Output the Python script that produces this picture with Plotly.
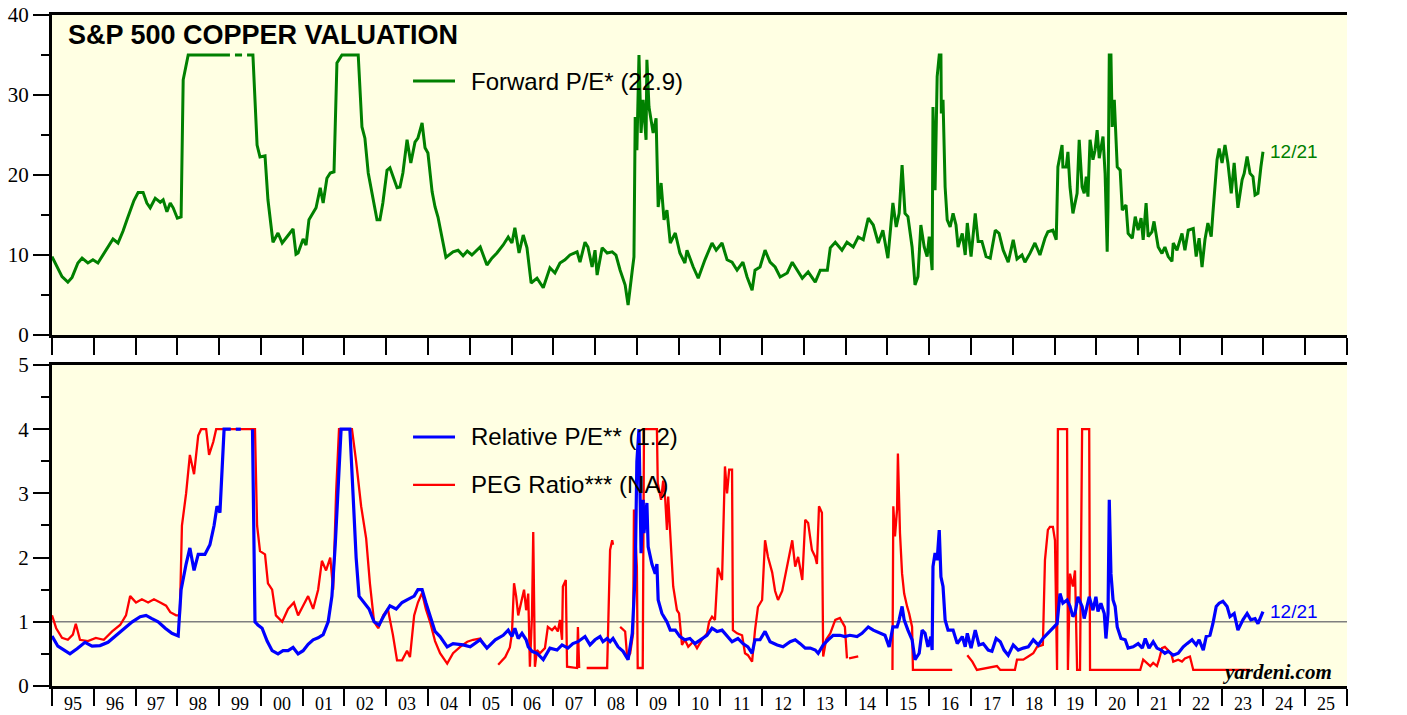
import pandas as pd
import plotly.graph_objects as go

# ---------------- data (decimal years, values) ----------------
pe_years = [1995.00, 1995.12, 1995.24, 1995.38, 1995.48, 1995.62, 1995.72, 1995.86, 1995.98, 1996.10,
            1996.22, 1996.34, 1996.46, 1996.58, 1996.70, 1996.80, 1996.87, 1996.96, 1997.06, 1997.18,
            1997.27, 1997.35, 1997.47, 1997.59, 1997.66, 1997.75, 1997.83, 1997.90, 1998.00, 1998.09,
            1998.14, 1998.26, 1999.26, 1999.30, 1999.38, 1999.55, 1999.60, 1999.67, 1999.81, 1999.91,
            1999.98, 2000.10, 2000.17, 2000.29, 2000.41, 2000.51, 2000.77, 2000.84, 2000.89, 2001.01,
            2001.08, 2001.15, 2001.32, 2001.42, 2001.49, 2001.58, 2001.66, 2001.75, 2001.82, 2001.94,
            2002.33, 2002.42, 2002.49, 2002.57, 2002.69, 2002.78, 2002.85, 2002.92, 2003.02, 2003.09,
            2003.26, 2003.33, 2003.40, 2003.50, 2003.59, 2003.69, 2003.76, 2003.86, 2003.93, 2004.00,
            2004.10, 2004.17, 2004.24, 2004.36, 2004.43, 2004.60, 2004.72, 2004.84, 2004.94, 2005.05,
            2005.25, 2005.41, 2005.53, 2005.65, 2005.80, 2005.92, 2006.01, 2006.08, 2006.18, 2006.28,
            2006.37, 2006.47, 2006.61, 2006.76, 2006.92, 2007.04, 2007.16, 2007.28, 2007.40, 2007.57,
            2007.64, 2007.76, 2007.83, 2007.93, 2008.00, 2008.05, 2008.17, 2008.29, 2008.41, 2008.50,
            2008.60, 2008.72, 2008.79, 2008.89, 2008.93, 2008.96, 2009.00, 2009.05, 2009.10, 2009.15,
            2009.22, 2009.24, 2009.29, 2009.39, 2009.46, 2009.51, 2009.58, 2009.65, 2009.72, 2009.80,
            2009.92, 2010.03, 2010.15, 2010.20, 2010.35, 2010.47, 2010.63, 2010.80, 2010.90, 2011.04,
            2011.16, 2011.28, 2011.40, 2011.54, 2011.64, 2011.76, 2011.83, 2011.95, 2012.07, 2012.19,
            2012.31, 2012.43, 2012.60, 2012.72, 2012.84, 2012.96, 2013.10, 2013.27, 2013.39, 2013.56,
            2013.63, 2013.75, 2013.91, 2014.03, 2014.18, 2014.30, 2014.42, 2014.54, 2014.66, 2014.78,
            2014.89, 2015.01, 2015.13, 2015.21, 2015.28, 2015.35, 2015.42, 2015.49, 2015.59, 2015.66,
            2015.73, 2015.80, 2015.88, 2015.95, 2016.00, 2016.07, 2016.09, 2016.14, 2016.19, 2016.24,
            2016.28, 2016.29, 2016.33, 2016.38, 2016.43, 2016.50, 2016.57, 2016.64, 2016.69, 2016.79,
            2016.86, 2016.91, 2017.00, 2017.10, 2017.17, 2017.26, 2017.36, 2017.46, 2017.58, 2017.67,
            2017.77, 2017.89, 2018.01, 2018.10, 2018.22, 2018.29, 2018.41, 2018.53, 2018.65, 2018.77,
            2018.84, 2018.96, 2019.04, 2019.08, 2019.18, 2019.20, 2019.28, 2019.32, 2019.37, 2019.44,
            2019.54, 2019.59, 2019.66, 2019.71, 2019.76, 2019.80, 2019.85, 2019.92, 2019.97, 2020.02,
            2020.07, 2020.16, 2020.21, 2020.26, 2020.28, 2020.31, 2020.35, 2020.38, 2020.43, 2020.47,
            2020.50, 2020.57, 2020.62, 2020.71, 2020.76, 2020.86, 2020.93, 2021.00, 2021.07, 2021.12,
            2021.19, 2021.24, 2021.33, 2021.38, 2021.48, 2021.57, 2021.64, 2021.72, 2021.81, 2021.84,
            2021.93, 2022.05, 2022.12, 2022.20, 2022.32, 2022.39, 2022.46, 2022.53, 2022.60, 2022.67,
            2022.75, 2022.79, 2022.84, 2022.89, 2022.94, 2023.01, 2023.08, 2023.15, 2023.23, 2023.30,
            2023.39, 2023.49, 2023.54, 2023.61, 2023.68, 2023.75, 2023.80, 2023.87, 2023.94, 2023.99]
pe_values = [9.8, 8.5, 7.3, 6.6, 7.2, 9.0, 9.6, 9.0, 9.4, 9.0,
             10.0, 11.0, 12.0, 11.5, 13.0, 14.5, 15.5, 16.8, 17.8, 17.8,
             16.5, 15.9, 17.1, 16.6, 16.9, 15.4, 16.5, 15.9, 14.6, 14.75,
             31.9, 35, 35, None, 35, 35, None, 35, 35, 23.75,
             22.25, 22.4, 16.9, 11.6, 12.75, 11.5, 13.25, 10.1, 10.25, 12.0,
             11.25, 14.4, 15.9, 18.4, 16.5, 19.6, 20.25, 20.4, 34.0, 35,
             35, 26.0, 24.6, 20.25, 16.9, 14.4, 14.4, 16.5, 20.6, 20.9,
             18.4, 18.5, 20.25, 24.4, 21.5, 24.1, 24.6, 26.5, 23.4, 22.75,
             17.9, 16.0, 14.75, 11.5, 9.7, 10.4, 10.6, 9.9, 10.5, 10.0,
             11.0, 8.75, 9.6, 10.25, 11.25, 12.25, 11.5, 13.4, 10.25, 12.5,
             10.9, 6.5, 7.1, 5.9, 8.4, 7.75, 9.0, 9.4, 10.0, 10.4,
             9.1, 11.6, 11.0, 8.5, 10.6, 7.5, 10.9, 10.25, 10.4, 10.0,
             8.1, 6.25, 3.75, 8.1, 9.75, 27.25, 23.1, 35, 25.25, 29.4,
             24.4, 34.4, 28.5, 25.25, 27.1, 16.0, 19.0, 14.4, 15.6, 11.5,
             12.75, 10.25, 9.0, 10.6, 8.5, 7.1, 9.4, 11.5, 10.6, 11.5,
             9.4, 9.1, 8.1, 9.1, 7.25, 5.6, 8.1, 8.5, 10.6, 9.1,
             8.5, 7.25, 7.75, 9.1, 8.1, 7.1, 7.9, 6.6, 8.1, 8.1,
             10.9, 11.6, 10.6, 11.6, 11.0, 12.25, 11.9, 14.6, 13.75, 11.5,
             13.1, 9.6, 16.5, 13.5, 15.2, 21.25, 15.2, 14.8, 11.0, 6.25,
             7.3, 13.75, 11.0, 9.8, 12.3, 8.1, 28.5, 18.1, 32.3, 35,
             35, 27.7, 29.4, 18.5, 14.4, 13.5, 15.2, 13.75, 11.0, 12.7,
             10.0, 14.0, 9.8, 15.2, 11.7, 11.7, 9.8, 9.6, 13.1, 12.7,
             10.6, 9.1, 11.9, 9.5, 10.0, 9.1, 10.2, 11.5, 10.0, 12.1,
             12.9, 13.1, 11.9, 21.0, 23.75, 21.0, 21.0, 22.9, 18.5, 15.2,
             17.7, 24.4, 18.5, 17.7, 19.8, 17.3, 24.4, 21.9, 23.1, 25.6,
             22.1, 24.8, 20.2, 10.4, 16.0, 35, 35, 26.0, 29.4, 25.2,
             21.0, 20.6, 15.6, 16.25, 12.7, 12.1, 14.8, 13.1, 14.6, 11.9,
             16.5, 12.3, 12.9, 14.2, 11.0, 10.2, 11.0, 9.8, 9.2, 11.5,
             10.6, 12.7, 10.6, 13.1, 13.3, 9.8, 12.1, 8.5, 11.9, 14.0,
             12.3, 15.2, 18.5, 21.9, 23.3, 21.5, 23.75, 21.5, 17.7, 21.5,
             15.9, 19.4, 20.2, 22.3, 20.2, 19.8, 17.5, 17.7, 21.0, 22.9]

rel_years = [1995.00, 1995.14, 1995.31, 1995.43, 1995.60, 1995.79, 1995.96, 1996.15, 1996.34, 1996.53,
             1996.72, 1996.92, 1997.11, 1997.25, 1997.39, 1997.54, 1997.71, 1997.87, 1998.02, 1998.09,
             1998.21, 1998.30, 1998.40, 1998.50, 1998.66, 1998.78, 1998.88, 1998.95, 1999.02, 1999.12,
             1999.28, 1999.32, 1999.40, 1999.52, 1999.56, 1999.80, 1999.86, 1999.93, 2000.03, 2000.15,
             2000.27, 2000.41, 2000.53, 2000.65, 2000.77, 2000.89, 2001.01, 2001.13, 2001.25, 2001.37,
             2001.49, 2001.61, 2001.70, 2001.78, 2001.85, 2001.92, 2002.13, 2002.21, 2002.28, 2002.35,
             2002.47, 2002.59, 2002.71, 2002.83, 2002.95, 2003.09, 2003.24, 2003.38, 2003.52, 2003.67,
             2003.76, 2003.86, 2003.95, 2004.05, 2004.17, 2004.29, 2004.46, 2004.60, 2004.84, 2005.01,
             2005.25, 2005.41, 2005.61, 2005.80, 2005.92, 2006.01, 2006.08, 2006.16, 2006.25, 2006.35,
             2006.40, 2006.49, 2006.61, 2006.76, 2006.92, 2007.09, 2007.21, 2007.35, 2007.47, 2007.59,
             2007.76, 2007.88, 2008.00, 2008.12, 2008.19, 2008.29, 2008.36, 2008.43, 2008.55, 2008.67,
             2008.79, 2008.89, 2008.96, 2009.00, 2009.05, 2009.10, 2009.15, 2009.17, 2009.24, 2009.27,
             2009.36, 2009.44, 2009.48, 2009.51, 2009.60, 2009.72, 2009.80, 2009.92, 2010.03, 2010.15,
             2010.27, 2010.39, 2010.51, 2010.68, 2010.80, 2010.92, 2011.04, 2011.16, 2011.28, 2011.42,
             2011.54, 2011.66, 2011.76, 2011.83, 2011.95, 2012.07, 2012.19, 2012.36, 2012.50, 2012.67,
             2012.79, 2012.91, 2013.03, 2013.15, 2013.27, 2013.34, 2013.46, 2013.58, 2013.70, 2013.86,
             2013.98, 2014.10, 2014.27, 2014.39, 2014.54, 2014.66, 2014.82, 2014.94, 2015.04, 2015.13,
             2015.23, 2015.28, 2015.35, 2015.40, 2015.49, 2015.59, 2015.66, 2015.76, 2015.83, 2015.90,
             2015.97, 2016.04, 2016.07, 2016.09, 2016.14, 2016.19, 2016.24, 2016.28, 2016.33, 2016.38,
             2016.45, 2016.57, 2016.67, 2016.79, 2016.86, 2016.91, 2017.00, 2017.10, 2017.19, 2017.29,
             2017.41, 2017.50, 2017.60, 2017.70, 2017.79, 2017.89, 2018.01, 2018.13, 2018.25, 2018.37,
             2018.49, 2018.61, 2018.72, 2018.84, 2018.96, 2019.06, 2019.13, 2019.20, 2019.30, 2019.37,
             2019.44, 2019.49, 2019.56, 2019.66, 2019.71, 2019.78, 2019.83, 2019.92, 2019.99, 2020.04,
             2020.11, 2020.19, 2020.23, 2020.28, 2020.31, 2020.35, 2020.40, 2020.45, 2020.50, 2020.59,
             2020.69, 2020.76, 2020.88, 2021.00, 2021.10, 2021.17, 2021.26, 2021.36, 2021.45, 2021.55,
             2021.64, 2021.72, 2021.84, 2021.96, 2022.08, 2022.17, 2022.29, 2022.39, 2022.46, 2022.56,
             2022.63, 2022.72, 2022.79, 2022.87, 2022.94, 2023.03, 2023.13, 2023.20, 2023.30, 2023.39,
             2023.51, 2023.61, 2023.70, 2023.80, 2023.87, 2023.94, 2023.99]
rel_values = [0.78, 0.62, 0.55, 0.50, 0.58, 0.68, 0.62, 0.63, 0.68, 0.78,
              0.88, 1.0, 1.08, 1.1, 1.05, 1.0, 0.9, 0.82, 0.78, 1.5,
              1.9, 2.15, 1.8, 2.05, 2.05, 2.2, 2.5, 2.8, 2.7, 4.0,
              4.0, None, 4.0, 4.0, None, 4.0, 1.0, 0.95, 0.9, 0.7,
              0.55, 0.5, 0.55, 0.55, 0.6, 0.5, 0.55, 0.65, 0.72, 0.75,
              0.8, 1.0, 1.4, 2.2, 3.0, 4.0, 4.0, 3.0, 2.0, 1.4,
              1.3, 1.2, 1.0, 0.95, 1.1, 1.25, 1.2, 1.3, 1.35, 1.4,
              1.5, 1.5, 1.3, 1.1, 0.85, 0.77, 0.61, 0.66, 0.64, 0.61,
              0.72, 0.59, 0.72, 0.79, 0.87, 0.77, 0.9, 0.74, 0.82, 0.72,
              0.61, 0.54, 0.51, 0.41, 0.59, 0.56, 0.64, 0.59, 0.66, 0.69,
              0.77, 0.64, 0.72, 0.77, 0.69, 0.74, 0.69, 0.74, 0.61, 0.54,
              0.41, 0.82, 1.75, 3.5, 4.0, 2.07, 2.9, 2.38, 2.85, 2.17,
              1.9, 1.75, 1.9, 1.34, 1.13, 1.0, 0.87, 0.87, 0.77, 0.72,
              0.74, 0.66, 0.72, 0.79, 0.9, 0.85, 0.87, 0.77, 0.69, 0.74,
              0.66, 0.61, 0.51, 0.72, 0.72, 0.85, 0.69, 0.64, 0.61, 0.69,
              0.72, 0.66, 0.59, 0.59, 0.56, 0.51, 0.64, 0.72, 0.79, 0.79,
              0.77, 0.79, 0.77, 0.82, 0.92, 0.87, 0.82, 0.79, 0.61, 0.92,
              0.92, 1.03, 1.24, 1.03, 0.87, 0.72, 0.41, 0.51, 0.87, 0.82,
              0.61, 0.77, 0.56, 1.86, 2.07, 1.96, 2.43, 1.7, 1.55, 1.03,
              0.87, 0.87, 0.66, 0.77, 0.61, 0.82, 0.59, 0.87, 0.64, 0.66,
              0.56, 0.54, 0.74, 0.69, 0.56, 0.48, 0.64, 0.56, 0.59, 0.61,
              0.72, 0.64, 0.74, 0.82, 0.9, 0.97, 1.44, 1.29, 1.34, 1.24,
              1.08, 1.13, 1.39, 1.24, 1.05, 1.24, 1.39, 1.18, 1.39, 1.16,
              1.29, 1.13, 0.74, 1.13, 2.9, 1.75, 1.34, 1.24, 0.92, 0.74,
              0.72, 0.59, 0.61, 0.66, 0.59, 0.74, 0.59, 0.69, 0.59, 0.56,
              0.51, 0.54, 0.48, 0.51, 0.61, 0.66, 0.72, 0.64, 0.72, 0.56,
              0.77, 0.79, 0.97, 1.24, 1.29, 1.32, 1.24, 1.08, 1.13, 0.87,
              1.03, 1.13, 1.03, 1.05, 0.97, 1.08, 1.16]

peg_years = [1995.00, 1995.10, 1995.24, 1995.38, 1995.50, 1995.57, 1995.67, 1995.86, 1996.05, 1996.24,
             1996.44, 1996.63, 1996.77, 1996.87, 1997.01, 1997.15, 1997.30, 1997.44, 1997.59, 1997.73,
             1997.83, 1997.97, 1998.06, 1998.11, 1998.21, 1998.30, 1998.40, 1998.50, 1998.57, 1998.69,
             1998.76, 1998.86, 1998.93, 1999.86, 1999.91, 1999.98, 2000.10, 2000.17, 2000.27, 2000.36,
             2000.51, 2000.65, 2000.79, 2000.89, 2001.01, 2001.13, 2001.25, 2001.37, 2001.46, 2001.56,
             2001.66, 2001.73, 2001.80, 2001.87, 2002.18, 2002.28, 2002.40, 2002.52, 2002.61, 2002.71,
             2002.81, 2002.93, 2003.04, 2003.16, 2003.26, 2003.38, 2003.50, 2003.57, 2003.67, 2003.76,
             2003.86, 2003.95, 2004.05, 2004.17, 2004.29, 2004.46, 2004.60, 2004.77, 2004.94, 2005.08,
             2005.25, 2005.32, 2005.50, 2005.68, 2005.85, 2005.96, 2006.01, 2006.06, 2006.11, 2006.16,
             2006.25, 2006.30, 2006.35, 2006.40, 2006.44, 2006.49, 2006.52, 2006.56, 2006.61, 2006.68,
             2006.80, 2006.87, 2006.97, 2007.04, 2007.11, 2007.16, 2007.21, 2007.23, 2007.30, 2007.33,
             2007.57, 2007.59, 2007.62, 2007.70, 2007.80, 2008.29, 2008.36, 2008.41, 2008.43, 2008.50,
             2008.60, 2008.72, 2008.77, 2008.84, 2008.91, 2008.93, 2009.00, 2009.02, 2009.14, 2009.17,
             2009.48, 2009.50, 2009.58, 2009.63, 2009.68, 2009.72, 2009.75, 2009.80, 2009.87, 2009.96,
             2010.01, 2010.08, 2010.15, 2010.23, 2010.35, 2010.44, 2010.56, 2010.68, 2010.73, 2010.80,
             2010.87, 2010.94, 2011.04, 2011.11, 2011.16, 2011.21, 2011.28, 2011.30, 2011.40, 2011.52,
             2011.59, 2011.66, 2011.76, 2011.83, 2011.90, 2012.00, 2012.07, 2012.14, 2012.24, 2012.31,
             2012.38, 2012.48, 2012.60, 2012.72, 2012.79, 2012.86, 2012.96, 2013.03, 2013.10, 2013.19,
             2013.27, 2013.31, 2013.36, 2013.43, 2013.46, 2013.53, 2013.63, 2013.75, 2013.86, 2013.98,
             2014.03, 2014.05, 2014.08, 2014.30, 2014.70, 2015.12, 2015.14, 2015.18, 2015.23, 2015.25,
             2015.30, 2015.35, 2015.40, 2015.47, 2015.52, 2015.59, 2015.61, 2016.55, 2016.70, 2016.91,
             2017.03, 2017.14, 2017.62, 2017.70, 2018.05, 2018.10, 2018.25, 2018.37, 2018.49, 2018.58,
             2018.72, 2018.77, 2018.84, 2018.89, 2018.96, 2019.01, 2019.06, 2019.08, 2019.30, 2019.32,
             2019.37, 2019.44, 2019.49, 2019.54, 2019.61, 2019.66, 2019.83, 2019.85, 2021.05, 2021.12,
             2021.21, 2021.29, 2021.36, 2021.45, 2021.50, 2021.57, 2021.64, 2021.72, 2021.79, 2021.84,
             2021.96, 2022.05, 2022.12, 2022.24, 2022.32, 2023.68]
peg_values = [1.1, 0.9, 0.75, 0.72, 0.8, 0.97, 0.72, 0.7, 0.75, 0.72,
              0.85, 0.95, 1.1, 1.4, 1.3, 1.35, 1.3, 1.35, 1.3, 1.25,
              1.15, 1.1, 1.1, 2.5, 3.0, 3.6, 3.3, 3.9, 4.0, 4.0,
              3.6, 3.8, 4.0, 4.0, 2.5, 2.1, 2.05, 1.6, 1.5, 1.1,
              1.0, 1.2, 1.3, 1.1, 1.25, 1.4, 1.2, 1.5, 1.95, 1.8,
              2.0, 1.5, 3.0, 4.0, 4.0, 3.5, 2.8, 2.3, 1.6, 1.0,
              0.9, 1.1, 1.2, 0.8, 0.4, 0.4, 0.55, 0.45, 1.1, 1.3,
              1.45, 1.2, 1.0, 0.7, 0.51, 0.35, 0.51, 0.61, 0.69, 0.72,
              0.74, 0.66, None, 0.33, 0.45, 0.6, 0.82, 1.6, 1.4, 1.1,
              1.33, 1.5, 1.18, 1.44, 0.3, 1.1, 2.4, 0.3, 0.56, 0.51,
              0.59, 0.92, 0.87, 0.92, 0.85, 1.03, 0.72, 1.55, 1.65, 0.3,
              0.28, 0.92, 0.28, None, 0.28, 0.28, 2.12, 2.27, 2.2, None,
              0.92, 0.85, 0.43, 0.51, 0.82, 2.75, 1.86, 0.28, 0.28, 4.0,
              4.0, 3.16, 2.9, 3.2, 2.9, 2.43, 2.95, 2.38, 1.55, 1.18,
              1.13, 0.64, 0.72, 0.61, 0.69, 0.59, 0.72, 0.82, 1.0, 1.08,
              1.03, 1.84, 1.65, 3.42, 3.0, 3.37, 3.37, 0.87, 0.82, 0.79,
              0.51, 0.48, 0.38, 0.87, 1.23, 1.34, 2.27, 2.01, 1.77, 1.48,
              1.34, 1.48, 1.9, 2.27, 1.86, 2.01, 1.65, 2.59, 2.54, 2.12,
              2.01, 1.9, 2.8, 2.7, 0.46, 0.72, 0.82, 1.03, 1.06, 0.92,
              0.43, None, 0.43, 0.46, None, 0.25, 2.8, 2.33, 2.75, 3.62,
              2.38, 1.75, 1.44, 1.24, 1.13, 0.92, 0.25, 0.25, None, 0.48,
              0.38, 0.25, 0.31, 0.25, 0.25, 0.41, 0.41, 0.46, 0.51, 0.61,
              0.64, 1.96, 2.43, 2.48, 2.48, 2.27, 0.25, 4.0, 4.0, 0.25,
              1.75, 1.55, 1.8, 0.25, 0.25, 4.0, 4.0, 0.25, 0.25, 0.41,
              0.36, 0.31, 0.36, 0.31, 0.41, 0.59, 0.61, 0.56, 0.51, 0.38,
              0.41, 0.38, 0.43, 0.46, 0.25, 0.25]

year_ticks = list(range(1995, 2027))
year_labels = ["%02d" % (y % 100) for y in year_ticks[:-1]]


def to_dates(years):
    out = []
    for y in years:
        yi = int(y)
        start = pd.Timestamp(year=yi, month=1, day=1)
        end = pd.Timestamp(year=yi + 1, month=1, day=1)
        out.append(start + (end - start) * (y - yi))
    return out


GREEN = "#008000"
BLUE = "#0000FF"
RED = "#FF0000"
BG = "#FFFFE3"
SERIF = "Liberation Serif, Times New Roman, serif"
SANS = "Liberation Sans, Arial, sans-serif"

fig = go.Figure()
fig.add_trace(go.Scatter(x=to_dates(pe_years), y=pe_values, mode="lines",
                         line=dict(color=GREEN, width=3), xaxis="x", yaxis="y",
                         connectgaps=False, showlegend=False))
fig.add_trace(go.Scatter(x=to_dates(peg_years), y=peg_values, mode="lines",
                         line=dict(color=RED, width=2.3), xaxis="x2", yaxis="y2",
                         connectgaps=False, showlegend=False))
fig.add_trace(go.Scatter(x=to_dates(rel_years), y=rel_values, mode="lines",
                         line=dict(color=BLUE, width=3.2), xaxis="x2", yaxis="y2",
                         connectgaps=False, showlegend=False))

xrange_ = [pd.Timestamp(year=year_ticks[0], month=1, day=1), pd.Timestamp(year=year_ticks[-1], month=1, day=1)]

xcommon = dict(type="date", range=xrange_, tick0="1995-01-01", dtick="M12",
               ticks="outside", ticklen=17, tickwidth=2, tickcolor="black",
               showline=True, linewidth=3, linecolor="black", mirror=True,
               showgrid=False, zeroline=False, fixedrange=True, automargin=False,
               showticklabels=False)
ycommon = dict(ticks="outside", ticklen=16, tickwidth=2, tickcolor="black",
               showline=True, linewidth=3, linecolor="black", showgrid=False,
               zeroline=False, automargin=False, fixedrange=True,
               tickfont=dict(family=SERIF, size=21, color="black"))

top_dom = [0.5231, 1.0]
bot_dom = [0.0, 0.4784]

fig.update_layout(
    width=1407, height=715,
    margin=dict(l=52, r=60, t=15, b=29),
    paper_bgcolor="white", plot_bgcolor=BG,
    showlegend=False,
    xaxis=dict(**xcommon, anchor="y", domain=[0, 1]),
    xaxis2=dict(**xcommon, anchor="y2", domain=[0, 1]),
    yaxis=dict(**ycommon, domain=top_dom, anchor="x", range=[0, 40], dtick=10,
               minor=dict(dtick=5, ticklen=8, tickwidth=2, tickcolor="black", ticks="outside")),
    yaxis3=dict(**ycommon, overlaying="y", side="right", anchor="x", range=[0, 40], dtick=10,
                minor=dict(dtick=5, ticklen=8, tickwidth=2, tickcolor="black", ticks="outside")),
    yaxis2=dict(**ycommon, domain=bot_dom, anchor="x2", range=[0, 5], dtick=1,
                minor=dict(dtick=0.5, ticklen=8, tickwidth=2, tickcolor="black", ticks="outside")),
    yaxis4=dict(**ycommon, overlaying="y2", side="right", anchor="x2", range=[0, 5], dtick=1,
                minor=dict(dtick=0.5, ticklen=8, tickwidth=2, tickcolor="black", ticks="outside")),
)

# year labels centred between the yearly ticks
mid_dates = to_dates([y + 0.5 for y in year_ticks[:-1]])
for d, lab in zip(mid_dates, year_labels):
    fig.add_annotation(text=lab, x=d, xref="x2", yref="paper", y=-0.0095, yanchor="top",
                       xanchor="center", showarrow=False,
                       font=dict(family=SERIF, size=18, color="black"))

# reference line at 1 in the lower panel
fig.add_shape(type="line", xref="x2 domain", yref="y2", x0=0, x1=1, y0=1, y1=1,
              line=dict(color="#7F7F7F", width=1.5), layer="below")

# title
fig.add_annotation(text="<b>S&P 500 COPPER VALUATION</b>", xref="paper", yref="paper",
                   x=0.0108, y=0.970, xanchor="left", yanchor="middle", showarrow=False,
                   font=dict(family=SANS, size=27, color="black"))

# manual legends
legend_items = [("Forward P/E* (22.9)", GREEN, 3, 0.9016),
                ("Relative P/E** (1.2)", BLUE, 3.2, 0.3711),
                ("PEG Ratio*** (NA)", RED, 2.3, 0.2996)]
for label, color, width, ypos in legend_items:
    fig.add_shape(type="line", xref="paper", yref="paper", x0=0.2788, x1=0.3112, y0=ypos, y1=ypos,
                  line=dict(color=color, width=width))
    fig.add_annotation(text=label, xref="paper", yref="paper", x=0.3220, y=ypos,
                       xanchor="left", yanchor="middle", showarrow=False,
                       font=dict(family=SANS, size=24, color="black"))

# end labels
last_pe = next(v for v in reversed(pe_values) if v is not None)
last_rel = next(v for v in reversed(rel_values) if v is not None)
fig.add_annotation(text="12/21", x=to_dates([pe_years[-1]])[0], y=last_pe, xref="x", yref="y",
                   xanchor="left", yanchor="middle", xshift=5, showarrow=False,
                   font=dict(family=SANS, size=19, color=GREEN))
fig.add_annotation(text="12/21", x=to_dates([rel_years[-1]])[0], y=last_rel, xref="x2", yref="y2",
                   xanchor="left", yanchor="middle", xshift=5, showarrow=False,
                   font=dict(family=SANS, size=19, color=BLUE))

fig.add_annotation(text="<b><i>yardeni.com</i></b>", xref="paper", yref="paper",
                   x=0.990, y=0.021, xanchor="right", yanchor="middle", showarrow=False,
                   font=dict(family=SERIF, size=21, color="black"))

fig.write_html("out.html", config={"displayModeBar": False},
               post_script="document.body.style.margin='0';document.body.style.overflow='hidden';")
